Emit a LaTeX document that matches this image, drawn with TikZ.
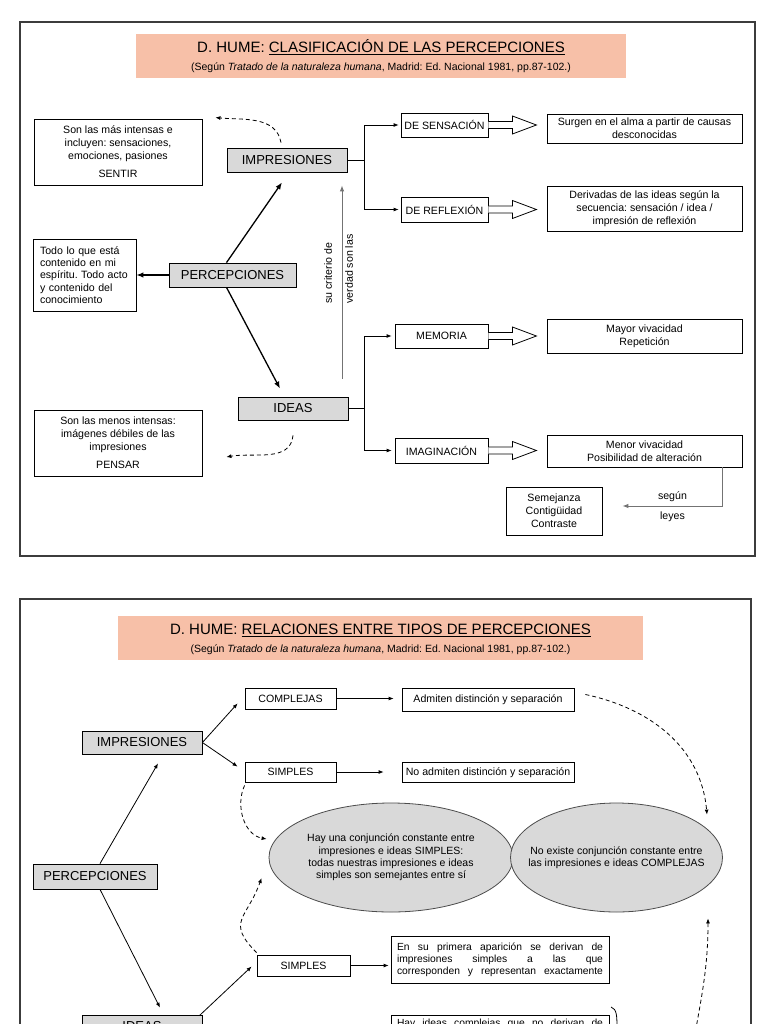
\documentclass[tikz,border=0pt]{standalone}
\usepackage{fontspec}
\setmainfont{Liberation Sans}
\usetikzlibrary{arrows.meta,shapes.geometric}
\definecolor{hdr}{RGB}{247,192,168}
\definecolor{boxgray}{RGB}{217,217,217}
\definecolor{framec}{RGB}{60,60,60}
\frenchspacing
\newcommand{\hollowarr}[1]{%
  \draw[line width=0.8pt,fill=white] ([yshift=3.5pt]#1.east) -- ++(24,0) -- ++(0,-5.5) -- ++(24,9) -- ++(-24,9) -- ++(0,-5.5) -- ++(-24,0);}
\begin{document}
\begin{tikzpicture}[x=1pt,y=-1pt,
  box/.style={draw=black,line width=0.8pt,fill=white,inner sep=0pt,align=center,font=\fontsize{10.6}{13}\selectfont},
  gbox/.style={draw=black,line width=0.8pt,fill=boxgray,inner sep=0pt,font=\fontsize{13}{15}\selectfont},
  ell/.style={ellipse,draw=black!70,line width=0.8pt,fill=boxgray,inner sep=0pt},
  elltext/.style={inner sep=0pt,align=center,font=\fontsize{10.5}{12.3}\selectfont},
  hdrbox/.style={fill=hdr,inner sep=0pt},
  titlef/.style={inner sep=0pt,font=\fontsize{15}{18}\selectfont},
  subf/.style={inner sep=0pt,font=\fontsize{10.5}{12}\selectfont},
  frame/.style={draw=framec,line width=1.2pt},
  arr/.style={line width=0.8pt,-{Latex[length=5pt,width=4pt]}},
  thickarr/.style={line width=1.3pt,-{Latex[length=7pt,width=5.5pt]}},
  garr/.style={draw=black!55,line width=1pt,-{Latex[length=6pt,width=4.5pt]}},
  dsh/.style={dash pattern=on 4pt off 3pt,line width=0.8pt,-{Latex[length=5pt,width=4pt]}},
  lbl/.style={inner sep=0pt,font=\fontsize{10.6}{12}\selectfont}]
\useasboundingbox (0,0) rectangle (768,1024);
\clip (0,0) rectangle (768,1024);
\fill[white] (0,0) rectangle (768,1024);

% ---------------- Panel 1 ----------------
\draw[frame] (20,22) rectangle (755,556);
\node[hdrbox,minimum width=490pt,minimum height=44pt] (h1) at (381,56) {};
\node[titlef] (t1) at (381,47) {D. HUME: \underline{CLASIFICACIÓN DE LAS PERCEPCIONES}};
\node[subf] (s1) at (381,68) {(Según \textit{Tratado de la naturaleza humana}, Madrid: Ed. Nacional 1981, pp.87-102.)};

\node[box,minimum width=168pt,minimum height=66pt] (a1) at (118,152) {Son las más intensas e\\incluyen: sensaciones,\\emociones, pasiones\\[5pt]SENTIR};
\node[box,minimum width=103pt,minimum height=72pt,text width=89pt,align=left,font=\fontsize{10.6}{12.3}\selectfont] (b1) at (84.5,275) {Todo lo que está\\contenido en mi\\espíritu. Todo acto\\y contenido del\\conocimiento};
\node[box,minimum width=168pt,minimum height=66pt] (c1) at (118,443) {Son las menos intensas:\\imágenes débiles de las\\impresiones\\[5pt]PENSAR};

\node[gbox,minimum width=120pt,minimum height=24pt] (imp1) at (287,160) {IMPRESIONES};
\node[gbox,minimum width=127pt,minimum height=24pt] (perc1) at (232.5,275) {PERCEPCIONES};
\node[gbox,minimum width=110pt,minimum height=23pt] (ideas1) at (293,408.5) {IDEAS};

\node[box,minimum width=87pt,minimum height=24pt] (sens) at (444.5,125) {DE SENSACIÓN};
\node[box,minimum width=87pt,minimum height=25pt] (refl) at (444.5,209.5) {DE REFLEXIÓN};
\node[box,minimum width=93pt,minimum height=24pt] (mem) at (441.5,336) {MEMORIA};
\node[box,minimum width=93pt,minimum height=25pt] (imag) at (441.5,450.5) {IMAGINACIÓN};

\node[box,minimum width=195pt,minimum height=29pt] (surg) at (644.5,128.5) {Surgen en el alma a partir de causas\\desconocidas};
\node[box,minimum width=195pt,minimum height=45pt] (deriv) at (644.5,208.5) {Derivadas de las ideas según la\\secuencia: sensación / idea /\\impresión de reflexión};
\node[box,minimum width=195pt,minimum height=34pt] (mayor) at (644.5,336) {Mayor vivacidad\\Repetición};
\node[box,minimum width=195pt,minimum height=32pt] (menor) at (644.5,451) {Menor vivacidad\\Posibilidad de alteración};
\node[box,minimum width=96pt,minimum height=48pt] (sem) at (554,511) {Semejanza\\Contigüidad\\Contraste};

\hollowarr{sens}
\hollowarr{refl}
\hollowarr{mem}
\hollowarr{imag}

\draw[arr,shorten >=2pt] (imp1.east) -- ++(17,0) |- (sens.west);
\draw[arr,shorten >=2pt] (imp1.east) -- ++(17,0) |- (refl.west);
\draw[arr,shorten >=3pt] (ideas1.east) -- ++(16,0) |- (mem.west);
\draw[arr,shorten >=3pt] (ideas1.east) -- ++(16,0) |- (imag.west);

\draw[thickarr] ([xshift=-6pt]perc1.north) -- ([xshift=-5pt,yshift=-10pt]imp1.south);
\draw[thickarr] ([xshift=-6pt]perc1.south) -- ([xshift=-13pt,yshift=8pt]ideas1.north);
\draw[thickarr] (perc1.west) -- (b1.east);

\draw[dsh] ([xshift=-6pt,yshift=5pt]imp1.north) to[out=100,in=-5] ([xshift=13pt,yshift=1pt]a1.north east);
\draw[dsh] ([yshift=-15pt]ideas1.south) to[out=-95,in=10] ([xshift=24pt,yshift=-14pt]c1.east);

\draw[garr] ([xshift=49pt,yshift=18pt]ideas1.north) -- ([xshift=55pt,yshift=-13pt]imp1.south);
\node[rotate=90,align=left,inner sep=0pt,font=\fontsize{10.6}{21}\selectfont] (crit) at (338.5,269) {su criterio de\\verdad son las};

\draw[garr] ([xshift=78pt]menor.south) |- ([xshift=20pt,yshift=5pt]sem.east)
  node[lbl,pos=0.75,above=4pt] {según} node[lbl,pos=0.75,below=5pt] {leyes};

% ---------------- Panel 2 ----------------
\draw[frame] (20,599) rectangle (751,1045);
\node[hdrbox,minimum width=525pt,minimum height=44pt] (h2) at (380.5,638) {};
\node[titlef] (t2) at (380.5,630) {D. HUME: \underline{RELACIONES ENTRE TIPOS DE PERCEPCIONES}};
\node[subf] (s2) at (380.5,650) {(Según \textit{Tratado de la naturaleza humana}, Madrid: Ed. Nacional 1981, pp.87-102.)};

\node[ell,minimum width=244pt,minimum height=109pt] (ellL) at (391,857.5) {};
\node[elltext] (ellLt) at (ellL.center) {Hay una conjunción constante entre\\impresiones e ideas SIMPLES:\\todas nuestras impresiones e ideas\\simples son semejantes entre sí};
\node[ell,minimum width=212pt,minimum height=109pt] (ellR) at (616.5,857.5) {};
\node[elltext] (ellRt) at (ellR.center) {No existe conjunción constante entre\\las impresiones e ideas COMPLEJAS};

\node[gbox,minimum width=120pt,minimum height=23pt] (imp2) at (142,742.5) {IMPRESIONES};
\node[gbox,minimum width=124pt,minimum height=25pt] (perc2) at (95,876.5) {PERCEPCIONES};
\node[gbox,minimum width=120pt,minimum height=23pt] (ideas2) at (142,1026.5) {IDEAS};

\node[box,minimum width=91pt,minimum height=21pt] (comp) at (290.5,698.5) {COMPLEJAS};
\node[box,minimum width=91pt,minimum height=20pt] (simp1) at (290.5,772) {SIMPLES};
\node[box,minimum width=93pt,minimum height=21pt] (simp2) at (303.5,965.5) {SIMPLES};
\node[box,minimum width=172pt,minimum height=23pt] (adm) at (488,699.5) {Admiten distinción y separación};
\node[box,minimum width=172pt,minimum height=20pt] (noadm) at (488,772.5) {No admiten distinción y separación};
\node[box,minimum width=218pt,minimum height=47pt,font=\fontsize{10.3}{12}\selectfont] (ensu) at (500,959.5) {\makebox[206pt][s]{En su primera aparición se derivan de}\\\makebox[206pt][s]{impresiones simples a las que}\\\makebox[206pt][s]{corresponden y representan exactamente}};
\node[box,anchor=north,minimum width=218pt,inner ysep=3.5pt,font=\fontsize{10.3}{12}\selectfont] (hay) at (500,1015) {\makebox[206pt][s]{Hay ideas complejas que no derivan de}};

\draw[arr] ([xshift=5pt]perc2.north) -- ([xshift=16pt,yshift=-9pt]imp2.south);
\draw[arr] ([xshift=5pt]perc2.south) -- ([xshift=18pt,yshift=7pt]ideas2.north);
\draw[arr] (imp2.east) -- ([xshift=-7pt,yshift=6pt]comp.south west);
\draw[arr] (imp2.east) -- ([xshift=-7pt,yshift=-5pt]simp1.north west);
\draw[arr] ([xshift=-3pt,yshift=-1pt]ideas2.north east) -- ([xshift=-5pt,yshift=-1pt]simp2.west);
\draw[arr,shorten >=8pt] (comp.east) -- (comp.east -| adm.west);
\draw[arr,shorten >=18pt] (simp1.east) -- (simp1.east -| noadm.west);
\draw[arr,shorten >=2pt] (simp2.east) -- (simp2.east -| ensu.west);

\draw[dsh] ([yshift=-3pt]simp1.south west) to[out=-115,in=170] ([xshift=-2pt,yshift=18.5pt]ellL.west);
\draw[dsh,looseness=1.5] ([yshift=2pt]simp2.north west) to[out=135,in=-110] ([xshift=-7pt,yshift=-20.5pt]ellL.west);
\draw[dsh] ([xshift=11pt,yshift=5pt]adm.east) to[out=-12,in=95] ([xshift=90.5pt,yshift=-12pt]ellR.north);
\coordinate (dsrc) at (693,1045);
\draw[dsh] (dsrc) to[out=80,in=-90] ([xshift=91.5pt,yshift=-6pt]ellR.south);

\coordinate (brk) at (611,1007);
\draw[line width=0.8pt] (brk) .. controls (617,1009) and (617,1016) .. (617,1030);
\end{tikzpicture}
\end{document}
